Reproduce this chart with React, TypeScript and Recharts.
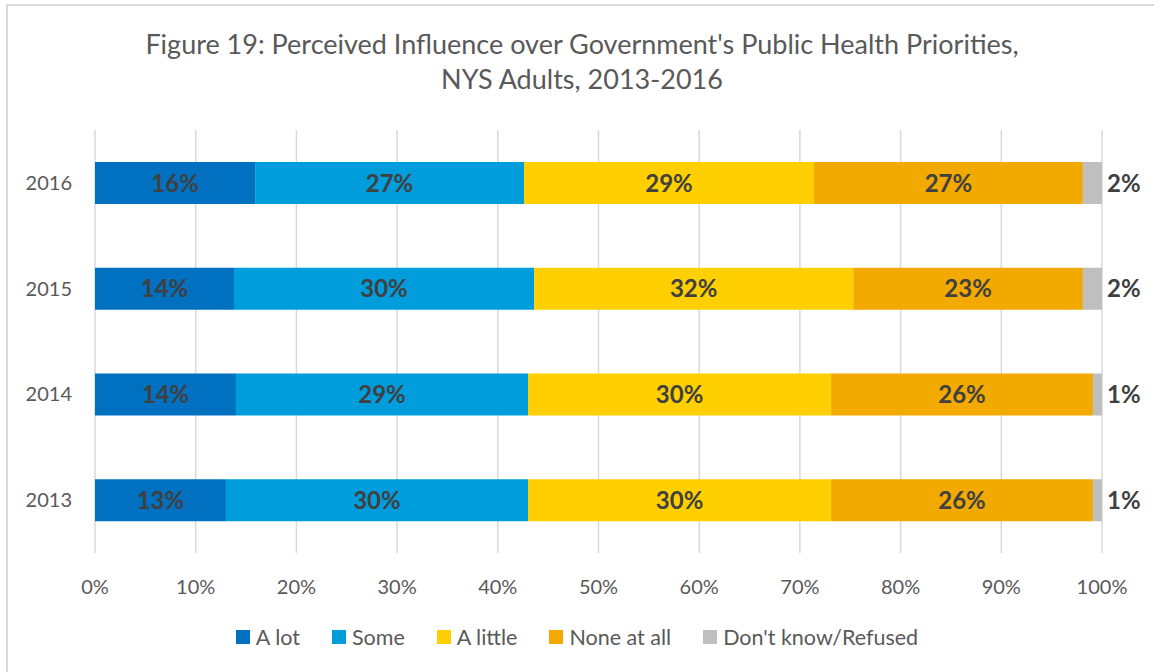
import { BarChart, Bar, XAxis, YAxis, CartesianGrid, Legend, LabelList } from "recharts";

const years = ["2016", "2015", "2014", "2013"];
const aLot = [15.9, 13.8, 14.0, 13.0];
const some = [26.7, 29.8, 29.0, 30.0];
const aLittle = [28.8, 31.7, 30.1, 30.1];
const noneAtAll = [26.7, 22.8, 26.0, 26.0];
const dontKnow = [1.9, 1.9, 0.9, 0.9];
const xTicks = [0, 10, 20, 30, 40, 50, 60, 70, 80, 90, 100];

const series = [
  { key: "aLot", name: "A lot", color: "#0070C0" },
  { key: "some", name: "Some", color: "#009DDC" },
  { key: "aLittle", name: "A little", color: "#FFCF00" },
  { key: "noneAtAll", name: "None at all", color: "#F2A900" },
  { key: "dontKnow", name: "Don't know/Refused", color: "#BFBFBF" },
];

const data = years.map((year, i) => ({
  year,
  aLot: aLot[i],
  some: some[i],
  aLittle: aLittle[i],
  noneAtAll: noneAtAll[i],
  dontKnow: dontKnow[i],
}));

const FONT = "Lato, 'Open Sans', sans-serif";
const pct = (v: any) => `${Math.round(Number(v))}%`;

const LegendRow = (props: any) => {
  const items = [...(props.payload || [])].sort(
    (a: any, b: any) =>
      series.findIndex((s) => s.name === a.value) - series.findIndex((s) => s.name === b.value)
  );
  return (
    <div style={{ display: "flex", justifyContent: "center", gap: 32, fontFamily: FONT }}>
      {items.map((p: any) => (
        <div key={p.value} style={{ display: "flex", alignItems: "center" }}>
          <span style={{ width: 14, height: 14, background: p.color, marginRight: 6, display: "inline-block" }} />
          <span style={{ fontSize: 21.5, color: "#595959" }}>{p.value}</span>
        </div>
      ))}
    </div>
  );
};

export default function App() {
  return (
    <div style={{ position: "absolute", left: 0, top: 0, width: 1154, height: 672, overflow: "hidden", background: "#fff" }}>
      <div
        style={{
          position: "absolute",
          left: 6,
          top: 4,
          width: 1160,
          height: 680,
          border: "2px solid #D9D9D9",
          boxSizing: "border-box",
        }}
      />
      <div
        style={{
          position: "absolute",
          left: 0,
          top: 26,
          width: 1164,
          textAlign: "center",
          fontFamily: FONT,
          fontSize: 27,
          lineHeight: "35px",
          color: "#595959",
        }}
      >
        Figure 19: Perceived Influence over Government's Public Health Priorities,
        <br />
        NYS Adults, 2013-2016
      </div>
      <div style={{ position: "absolute", left: 0, top: 0 }}>
        <BarChart
          width={1154}
          height={672}
          data={data}
          layout="vertical"
          stackOffset="expand"
          barSize={42}
          margin={{ top: 130, right: 52, bottom: 79, left: 0 }}
        >
          <CartesianGrid horizontal={false} stroke="#D9D9D9" strokeWidth={1.5} />
          <XAxis
            type="number"
            domain={[0, 1]}
            ticks={xTicks.map((t) => t / 100)}
            tickFormatter={(v) => `${Math.round(v * 100)}%`}
            axisLine={false}
            tickLine={false}
            tickMargin={21}
            height={40}
            interval={0}
            tick={{ fill: "#595959", fontSize: 20, fontFamily: FONT }}
          />
          <YAxis
            type="category"
            dataKey="year"
            width={95}
            axisLine={false}
            tickLine={false}
            tickMargin={17}
            tick={{ fill: "#595959", fontSize: 20, fontFamily: FONT }}
          />
          <Legend
            layout="horizontal"
            verticalAlign="middle"
            align="center"
            wrapperStyle={{ top: 624, left: 0, width: 1154 }}
            content={<LegendRow />}
          />
          {series.map((s) => (
            <Bar key={s.key} dataKey={s.key} name={s.name} stackId="a" fill={s.color} isAnimationActive={false}>
              <LabelList
                dataKey={s.key}
                position={s.key === "dontKnow" ? "right" : "center"}
                offset={5}
                formatter={pct}
                fill="#404040"
                fontSize={24}
                fontWeight="bold"
                fontFamily={FONT}
              />
            </Bar>
          ))}
        </BarChart>
      </div>
    </div>
  );
}
